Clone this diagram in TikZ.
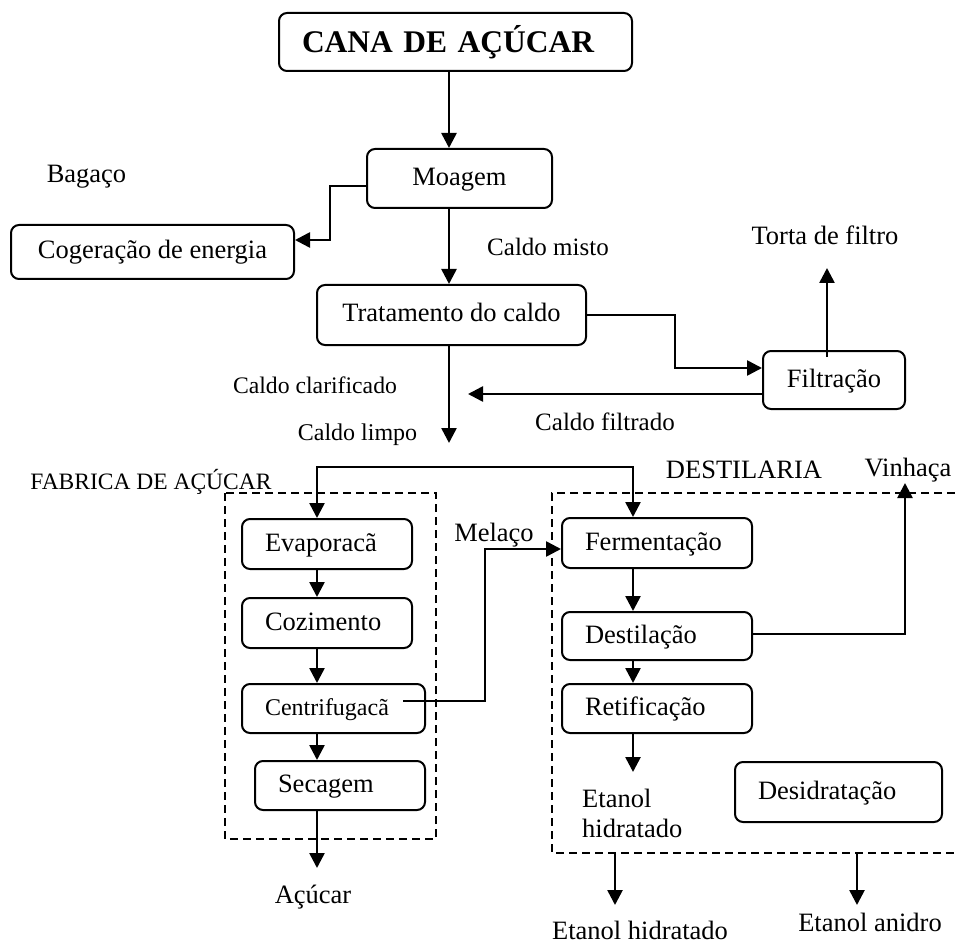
\documentclass[tikz,border=0pt]{standalone}
\usepackage{fontspec}
\setmainfont{Liberation Serif}
\usepackage{tikz}
\usetikzlibrary{arrows.meta,positioning}

\begin{document}
\begin{tikzpicture}[
    x=1pt, y=-1pt,
    font=\fontsize{26.5}{30}\selectfont,
    >={Triangle[length=15pt,width=15pt]},
    proc/.style={draw, rounded corners=8pt, line width=2pt, align=center, inner sep=0pt, text height=18pt, text depth=4pt},
    procl/.style={proc, align=left, inner xsep=23pt},
    lbl/.style={inner sep=0pt, align=center},
    frame/.style={line width=2pt, dash pattern=on 8pt off 5pt},
    arr/.style={->, line width=2.6pt}
]
\useasboundingbox (0,0) rectangle (955,949);
\coordinate (trunk) at (449,0);
\coordinate (sugcol) at (317,0);
\coordinate (alccol) at (633,0);
\node[procl, text width=307pt, minimum height=58pt, font=\fontsize{31.5}{36}\selectfont\bfseries, text height=23pt, text depth=2pt] (cana) at (455.5,42) {CANA DE AÇÚCAR};
\node[proc, minimum width=185pt, minimum height=59pt] (moagem) at (459.5,178.5) {Moagem};
\node[proc, minimum width=283pt, minimum height=54pt] (cogen) at (152.5,252) {Cogeração de energia};
\node[proc, minimum width=269pt, minimum height=60pt] (trat) at (451.5,315) {Tratamento do caldo};
\node[proc, minimum width=142pt, minimum height=58pt] (filt) at (834,380) {Filtração};
\node[procl, text width=124pt, minimum height=50pt] (evap) at (327,544) {Evaporacã};
\node[procl, text width=124pt, minimum height=50pt] (coz) at (327,623) {Cozimento};
\node[procl, text width=137pt, minimum height=49pt, font=\fontsize{24}{28}\selectfont] (centr) at (333.5,708.5) {Centrifugacã};
\node[procl, text width=124pt, minimum height=49pt] (sec) at (340,785.5) {Secagem};
\node[procl, text width=144pt, minimum height=50pt] (ferm) at (657,543) {Fermentação};
\node[procl, text width=144pt, minimum height=48pt] (dest) at (657,636) {Destilação};
\node[procl, text width=144pt, minimum height=49pt] (retif) at (657,708.5) {Retificação};
\node[procl, text width=161pt, minimum height=60pt] (desid) at (838.5,792) {Desidratação};

\node[lbl] (bagaco) at (86.5,177) {Bagaço};
\node[lbl, font=\fontsize{25}{30}\selectfont] (misto) at (548,247) {Caldo misto};
\node[lbl] (torta) at (825,235) {Torta de filtro};
\node[lbl, font=\fontsize{23.7}{28}\selectfont] (clarif) at (315,385) {Caldo clarificado};
\node[lbl, font=\fontsize{24}{28}\selectfont] (limpo) at (357.5,435) {Caldo limpo};
\node[lbl, font=\fontsize{25}{30}\selectfont] (filtrado) at (605,422) {Caldo filtrado};
\node[lbl, font=\fontsize{23.5}{28}\selectfont] (fabrica) at (151,482) {FABRICA DE AÇÚCAR};
\node[lbl] (destil) at (744,470) {DESTILARIA};
\node[lbl] (vinhaca) at (908,470) {Vinhaça};
\node[lbl] (melaco) at (494,535) {Melaço};
\node[lbl, anchor=west, align=left] (etanolin) at (582,813) {Etanol\\hidratado};
\node[lbl] (acucar) at (313,897) {Açúcar};
\node[lbl] (ehid) at (640,930) {Etanol hidratado};
\node[lbl] (eanid) at (870,922) {Etanol anidro};

\coordinate (tortaend) at (827,268);
\coordinate (limpoend) at (449,443);
\coordinate (filtend) at (468,394);
\coordinate (distrib) at (475,467);
\coordinate (vinhend) at (905,483);
\coordinate (acucarend) at (317,868);
\coordinate (retifend) at (633,772);
\coordinate (hidout) at (615,853);
\coordinate (hidend) at (615,905);
\coordinate (anidout) at (857,853);
\coordinate (anidend) at (857,905);

\draw[frame] (225,493) rectangle (436,839);
\draw[frame] (955,493) -| (552,853) -- (955,853);

\draw[arr] (cana.south -| trunk) -- (moagem.north -| trunk);
\draw[arr] ([yshift=-7.5pt]moagem.west) -- ++(-36,0) |- ([yshift=12pt]cogen.east);
\draw[arr] (moagem.south -| trunk) -- (trat.north -| trunk);
\draw[arr] (trat.east) -- ++(88,0) |- ([yshift=12pt]filt.west);
\draw[arr] ([xshift=-7pt,yshift=-7pt]filt.north) -- (tortaend);
\draw[arr] ([yshift=-14pt]filt.west) -- (filtend);
\draw[arr] (trat.south -| trunk) -- (limpoend);
\draw[arr, <->] (evap.north -| sugcol) |- (distrib) -| (ferm.north -| alccol);
\draw[arr] (evap.south -| sugcol) -- (coz.north -| sugcol);
\draw[arr] (coz.south -| sugcol) -- (centr.north -| sugcol);
\draw[arr] (centr.south -| sugcol) -- (sec.north -| sugcol);
\draw[arr] (sec.south -| sugcol) -- (acucarend);
\draw[arr] ([xshift=-23pt,yshift=7.5pt]centr.east) -- ++(82,0) |- ([yshift=-6pt]ferm.west);
\draw[arr] (ferm.south -| alccol) -- (dest.north -| alccol);
\draw[arr] (dest.south -| alccol) -- (retif.north -| alccol);
\draw[arr] (retif.south -| alccol) -- (retifend);
\draw[arr] ([yshift=2pt]dest.east) -| (vinhend);
\draw[arr] (hidout) -- (hidend);
\draw[arr] (anidout) -- (anidend);
\end{tikzpicture}
\end{document}
